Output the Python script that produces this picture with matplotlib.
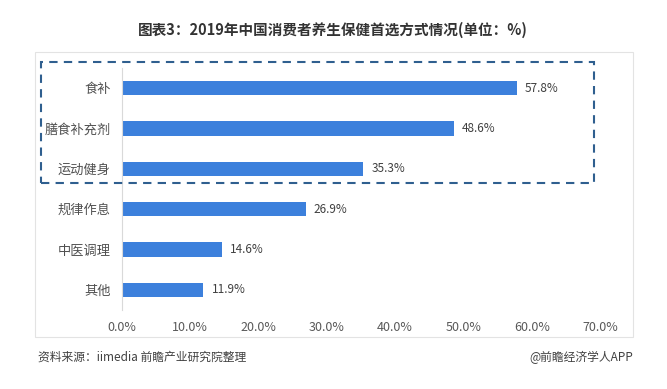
import matplotlib
matplotlib.use("Agg")
import matplotlib.pyplot as plt
from matplotlib.patches import Rectangle
from matplotlib.ticker import FuncFormatter

plt.rcParams['font.family'] = ['Noto Sans CJK SC', 'DejaVu Sans']

categories = ['食补', '膳食补充剂', '运动健身', '规律作息', '中医调理', '其他']
values = [57.8, 48.6, 35.3, 26.9, 14.6, 11.9]
xticks = [0, 10, 20, 30, 40, 50, 60, 70]

W, H = 667, 389
fig = plt.figure(figsize=(W / 100, H / 100), dpi=100)
fig.patch.set_facecolor('white')

# outer light frame
fig.add_artist(Rectangle((35 / W, 1 - 337 / H), (633 - 35) / W, (337 - 52) / H,
                         transform=fig.transFigure, fill=False,
                         edgecolor='#e3e3e3', lw=0.8))

ax = fig.add_axes([122 / W, 1 - 310 / H, (600 - 122) / W, (310 - 68) / H])
ax.set_facecolor('none')
y = list(range(len(categories)))
ax.barh(y, values, height=0.36, color='#3c80dc')
ax.set_ylim(len(categories) - 0.5, -0.5)
ax.set_xlim(0, 70)
ax.set_xticks(xticks)
ax.xaxis.set_major_formatter(FuncFormatter(lambda v, p: f'{v:.1f}%'))
ax.set_yticks(y)
ax.set_yticklabels(categories)
for s in ['top', 'right', 'bottom']:
    ax.spines[s].set_visible(False)
ax.spines['left'].set_color('#d9d9d9')
ax.spines['left'].set_linewidth(0.8)
ax.tick_params(axis='x', length=0, pad=8, labelsize=9, labelcolor='#595959')
ax.tick_params(axis='y', length=0, pad=8, labelsize=9.5, labelcolor='#505050')

for yi, v in zip(y, values):
    ax.text(v + 1.2, yi, f'{v:.1f}%', va='center', ha='left',
            fontsize=8.5, color='#404040')

# dashed highlight box
fig.add_artist(Rectangle((41 / W, 1 - 183 / H), (594 - 41) / W, (183 - 62) / H,
                         transform=fig.transFigure, fill=False,
                         edgecolor='#2f5f8f', lw=1.5, linestyle=(0, (4, 3))))

fig.text(333 / W, 1 - 30 / H, '图表3：2019年中国消费者养生保健首选方式情况(单位：%)',
         ha='center', va='center', fontsize=10.5, fontweight='bold', color='#333333')
fig.text(38 / W, 1 - 357 / H, '资料来源：iimedia 前瞻产业研究院整理',
         ha='left', va='center', fontsize=8.5, color='#404040')
fig.text(633 / W, 1 - 357 / H, '@前瞻经济学人APP',
         ha='right', va='center', fontsize=8.5, color='#404040')

fig.savefig('out.png', dpi=100, facecolor='white')
